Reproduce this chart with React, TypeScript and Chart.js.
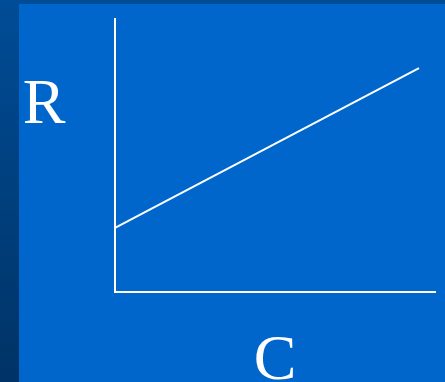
import React, { useEffect, useRef } from "react";
import { Chart, registerables } from "chart.js";

Chart.register(...registerables);

// Data: R as a linear function of C
const cValues = [0, 9.5];
const rValues = [2.35, 8.2];
const xLabel = "C";
const yLabel = "R";

const W = 445;
const H = 382;
const FONT = '64px "Liberation Serif", "Times New Roman", serif';

const backgroundPlugin = {
  id: "slideBackground",
  beforeDraw(chart: any) {
    const ctx = chart.ctx;
    ctx.save();
    ctx.fillStyle = "#0066cc";
    ctx.fillRect(0, 0, chart.width, chart.height);
    // top strip
    ctx.fillStyle = "#004c96";
    ctx.fillRect(0, 0, chart.width, 4);
    // left strip with vertical gradient
    const g = ctx.createLinearGradient(0, 0, 0, chart.height);
    g.addColorStop(0, "#004c96");
    g.addColorStop(1, "#003366");
    ctx.fillStyle = g;
    ctx.fillRect(0, 0, 19, chart.height);
    ctx.restore();
  },
  afterDraw(chart: any) {
    const ctx = chart.ctx;
    const area = chart.chartArea;
    ctx.save();
    ctx.fillStyle = "#ffffff";
    ctx.font = FONT;
    ctx.textBaseline = "alphabetic";
    ctx.textAlign = "center";
    // y-axis label, upright, to the left of the axis
    ctx.fillText(yLabel, 44, 123);
    // x-axis label, centred below the axis
    ctx.fillText(xLabel, (area.left + area.right) / 2, 379);
    ctx.restore();
  },
};

export default function App() {
  const ref = useRef<HTMLCanvasElement>(null);

  useEffect(() => {
    let chart: any = null;
    let cancelled = false;
    const make = () => {
      if (cancelled || !ref.current) return;
      chart = new Chart(ref.current, {
        type: "line",
        data: {
          datasets: [
            {
              data: cValues.map((c, i) => ({ x: c, y: rValues[i] })),
              borderColor: "#ffffff",
              borderWidth: 2,
              pointRadius: 0,
              fill: false,
              tension: 0,
            },
          ],
        },
        options: {
          responsive: false,
          animation: false,
          devicePixelRatio: 1,
          layout: { padding: { left: 115, top: 19, right: 10, bottom: 90 } },
          plugins: {
            legend: { display: false },
            tooltip: { enabled: false },
            title: { display: false },
          },
          scales: {
            x: {
              type: "linear",
              min: 0,
              max: 10,
              ticks: { display: false },
              grid: { display: false, drawTicks: false },
              border: { display: true, color: "#ffffff", width: 2 },
              title: { display: false },
            },
            y: {
              type: "linear",
              min: 0,
              max: 10,
              ticks: { display: false },
              grid: { display: false, drawTicks: false },
              border: { display: true, color: "#ffffff", width: 2 },
              title: { display: false },
            },
          },
        },
        plugins: [backgroundPlugin],
      });
    };
    if (document.fonts && document.fonts.load) {
      document.fonts.load(FONT, "RC").then(make, make);
    } else {
      make();
    }
    return () => {
      cancelled = true;
      if (chart) chart.destroy();
    };
  }, []);

  return (
    <div style={{ position: "fixed", left: 0, top: 0, width: W, height: H }}>
      <canvas ref={ref} width={W} height={H} style={{ display: "block" }} />
    </div>
  );
}
